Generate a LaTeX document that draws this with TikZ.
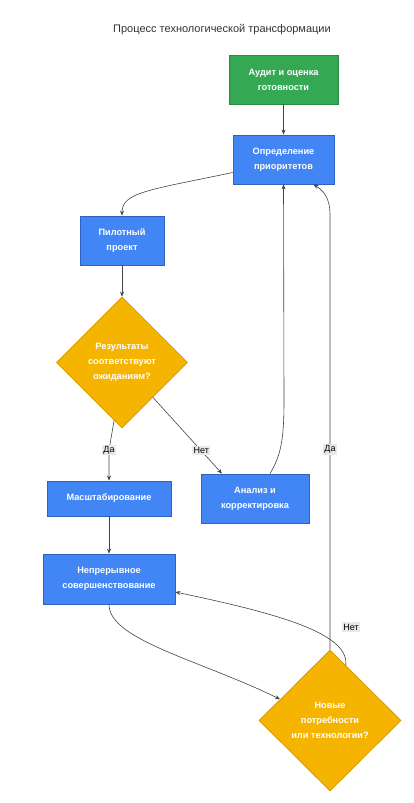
\documentclass[tikz,border=0pt]{standalone}
\usepackage{fontspec}
\setmainfont{Liberation Sans}
\usetikzlibrary{shapes.geometric,arrows.meta,calc}
\definecolor{gfill}{HTML}{34A853}
\definecolor{gdraw}{HTML}{2B8A45}
\definecolor{bfill}{HTML}{4285F4}
\definecolor{bdraw}{HTML}{2F62C0}
\definecolor{yfill}{HTML}{F4B400}
\definecolor{ydraw}{HTML}{D99A00}
\definecolor{edgec}{HTML}{444444}
\definecolor{lblbg}{HTML}{E8E8E8}
\tikzset{
  box/.style={draw, line width=0.8pt, align=center, text=white, font=\fontsize{9.2}{15}\selectfont\bfseries, inner sep=0pt},
  greenbox/.style={box, fill=gfill, draw=gdraw},
  bluebox/.style={box, fill=bfill, draw=bdraw},
  decision/.style={diamond, aspect=1, draw=ydraw, fill=yfill, line width=0.8pt, align=center, text=white, font=\fontsize{9.2}{15}\selectfont\bfseries, inner sep=0pt},
  edge/.style={draw=edgec, line width=0.6pt, -{Stealth[length=5pt,width=4pt]}},
  lbl/.style={fill=lblbg, text=black, font=\fontsize{9}{10}\selectfont, inner sep=1.5pt}
}
\begin{document}
\begin{tikzpicture}[x=1pt,y=-1pt]
\useasboundingbox[fill=white] (0,0) rectangle (413,803);
\node[font=\fontsize{11}{13}\selectfont, text=black!80] (title) at (222,30) {Процесс технологической трансформации};

\node[greenbox, minimum width=109pt, minimum height=49pt] (audit) at (283.5,79.5) {Аудит и оценка\\готовности};
\node[bluebox, minimum width=101pt, minimum height=49pt] (prio) at (283.5,159.5) {Определение\\приоритетов};
\node[bluebox, minimum width=84pt, minimum height=49pt] (pilot) at (122,240.5) {Пилотный\\проект};
\node[decision, minimum width=131pt, minimum height=131pt] (d1) at (122,362.5) {Результаты\\соответствуют\\ожиданиям?};
\node[bluebox, minimum width=124pt, minimum height=35pt] (scale) at (109,498.5) {Масштабирование};
\node[bluebox, minimum width=108pt, minimum height=49pt] (anal) at (255,498.5) {Анализ и\\корректировка};
\node[bluebox, minimum width=132pt, minimum height=50pt] (cont) at (109,579) {Непрерывное\\совершенствование};
\node[decision, minimum width=142pt, minimum height=141pt] (d2) at (330,720.5) {Новые\\потребности\\или технологии?};

\draw[edge] (audit) -- (prio);
\draw[edge] ([yshift=-13pt]prio.west) .. controls (150,190) and (122,192) .. (pilot.north);
\draw[edge] (pilot) -- (d1);
\draw[edge] ($(d1.south)!0.12!(d1.west)$) -- (109,450) node[lbl] {Да} -- (scale.north);
\draw[edge] ($(d1.south)!0.47!(d1.east)$) -- node[lbl, pos=0.7] {Нет} ([xshift=-33pt]anal.north);
\draw[edge] ([xshift=15pt]anal.north) .. controls (281,455) and (284,440) .. (284,400) -- (prio.south);
\draw[edge] (scale) -- (cont);
\draw[edge] (cont.south) .. controls (109,640) and (200,660) .. ($(d2.west)!0.3!(d2.north)$);
\draw[edge] (d2.north) -- node[lbl, pos=0.46] {Да} (330,215) .. controls (330,196) and (322,190) .. ([xshift=30pt]prio.south);
\draw[edge] ($(d2.north)!0.22!(d2.east)$) .. controls (350,632) and (270,612) .. ([yshift=-13pt]cont.east) node[lbl] at (351,627) {Нет};
\end{tikzpicture}
\end{document}
